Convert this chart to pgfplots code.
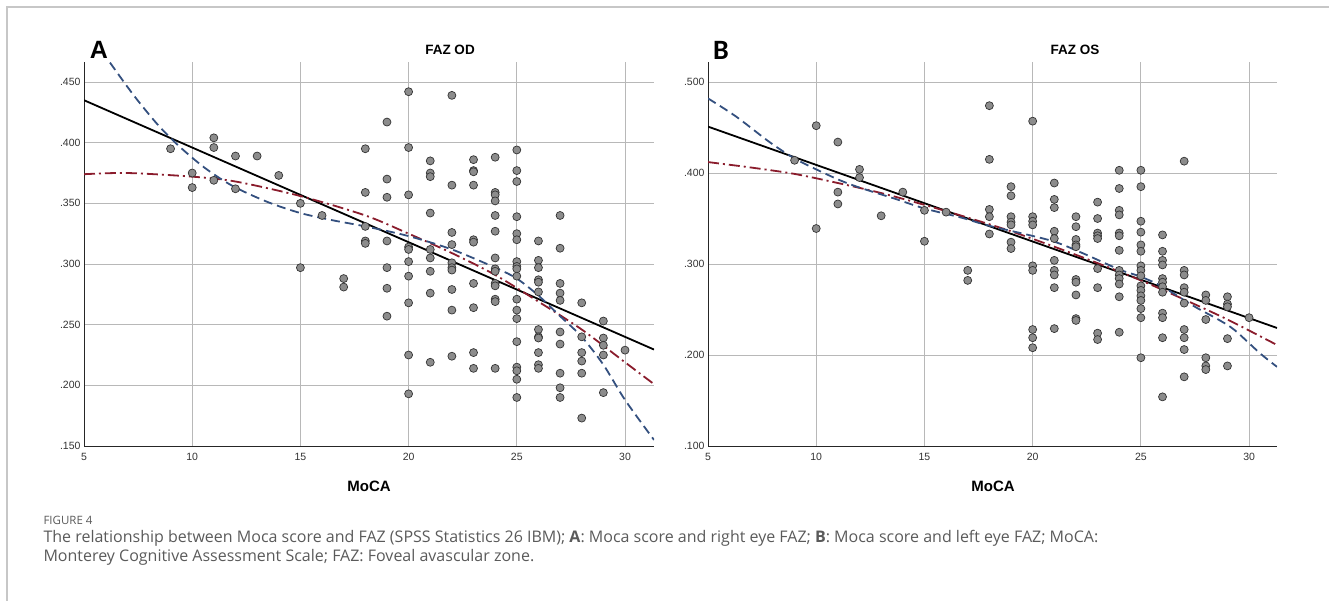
\documentclass[border=0pt]{standalone}
\usepackage{fontspec}
\setmainfont{Liberation Sans}
\newfontfamily\capfont{Open Sans}
\newfontfamily\calfont{Carlito}
\usepackage{pgfplots}
\pgfplotsset{compat=1.18}

\definecolor{fitblue}{HTML}{34507F}
\definecolor{fitred}{HTML}{8A1C2C}
\definecolor{ptfill}{HTML}{8C8C8C}
\definecolor{gridc}{HTML}{B8B8B8}
\definecolor{capgray}{HTML}{5A5A5A}

\pgfplotsset{
  fazstyle/.style={
    scale only axis, width=570pt, height=384pt,
    axis x line*=bottom, axis y line*=left,
    axis line style={draw=black!85, line width=1pt},
    grid=major, major grid style={gridc, line width=0.8pt},
    major tick length=0pt,
    xmin=5, xtick={5,10,15,20,25,30}, xticklabels={5,10,15,20,25,30},
    tick label style={font=\fontsize{10.5}{12}\selectfont, text=black!80},
    xticklabel style={yshift=-4pt},
  },
  pts/.style={only marks, mark=*, mark size=4pt,
    mark options={fill=ptfill, draw=black!80, line width=0.7pt}},
  linfit/.style={black, line width=1.8pt, no marks},
  cubfit/.style={fitblue, line width=1.8pt, dash pattern=on 9pt off 5pt, no marks, smooth},
  quadfit/.style={fitred, line width=1.8pt, dash pattern=on 11pt off 4pt on 2pt off 4pt, no marks, smooth},
}

\begin{document}
\begin{tikzpicture}
\useasboundingbox (0pt,-601pt) rectangle (1329pt,0pt);
\draw[black!22, line width=1.5pt] (7pt,-601pt) -- (7pt,-7pt) -- (1329pt,-7pt);

% panel A: FAZ OD
\begin{axis}[fazstyle, at={(84pt,-446pt)}, anchor=south west,
  xmax=31.34, ymin=0.15, ymax=0.4665,
  ytick={0.15,0.2,0.25,0.3,0.35,0.4,0.45},
  yticklabels={.150,.200,.250,.300,.350,.400,.450}]
\addplot[pts] coordinates {
 (9,0.395) (10,0.375) (10,0.363) (11,0.404) (11,0.396) (11,0.369)
 (12,0.389) (12,0.362) (13,0.389) (14,0.373) (15,0.350) (15,0.297)
 (16,0.340) (17,0.288) (17,0.281)
 (18,0.395) (18,0.359) (18,0.331) (18,0.319) (18,0.317)
 (19,0.417) (19,0.370) (19,0.355) (19,0.319) (19,0.297) (19,0.280) (19,0.257)
 (20,0.442) (20,0.396) (20,0.357) (20,0.314) (20,0.312) (20,0.302) (20,0.290) (20,0.268) (20,0.225) (20,0.193)
 (21,0.385) (21,0.375) (21,0.372) (21,0.342) (21,0.312) (21,0.305) (21,0.294) (21,0.276) (21,0.219)
 (22,0.439) (22,0.365) (22,0.326) (22,0.316) (22,0.301) (22,0.297) (22,0.295) (22,0.279) (22,0.262) (22,0.224)
 (23,0.386) (23,0.377) (23,0.376) (23,0.365) (23,0.320) (23,0.318) (23,0.284) (23,0.264) (23,0.227) (23,0.214)
 (24,0.388) (24,0.359) (24,0.357) (24,0.352) (24,0.340) (24,0.327) (24,0.305) (24,0.296) (24,0.294) (24,0.284) (24,0.282) (24,0.271) (24,0.269) (24,0.214)
 (25,0.394) (25,0.377) (25,0.368) (25,0.339) (25,0.325) (25,0.320) (25,0.302) (25,0.298) (25,0.296) (25,0.290) (25,0.271) (25,0.262) (25,0.255) (25,0.236) (25,0.215) (25,0.212) (25,0.205) (25,0.190)
 (26,0.319) (26,0.303) (26,0.297) (26,0.287) (26,0.285) (26,0.277) (26,0.246) (26,0.240) (26,0.239) (26,0.227) (26,0.217) (26,0.214)
 (27,0.340) (27,0.313) (27,0.284) (27,0.276) (27,0.270) (27,0.244) (27,0.234) (27,0.210) (27,0.198) (27,0.190)
 (28,0.268) (28,0.240) (28,0.227) (28,0.220) (28,0.210) (28,0.173)
 (29,0.253) (29,0.239) (29,0.233) (29,0.225) (29,0.194)
 (30,0.229)
};
\addplot[linfit] coordinates {(5,0.435) (31.34,0.2295)};
\addplot[quadfit] coordinates {
 (5,0.374) (7,0.375) (10,0.372) (12,0.368) (15,0.356) (18,0.340) (20,0.325)
 (22,0.309) (24,0.291) (26,0.269) (28,0.246) (30,0.219) (31.34,0.201)};
\addplot[cubfit] coordinates {
 (6.2,0.466) (7.3,0.439) (8.4,0.415) (9.4,0.397) (10.6,0.379) (11.9,0.364)
 (13.5,0.351) (15,0.342) (16.5,0.336) (18,0.331) (20,0.323) (22,0.312)
 (24,0.297) (25,0.288) (26,0.274) (27,0.257) (28,0.240) (29,0.217) (30,0.188) (31.34,0.155)};
\end{axis}

% panel B: FAZ OS
\begin{axis}[fazstyle, at={(708pt,-446pt)}, anchor=south west, width=569pt,
  xmax=31.29, ymin=0.1, ymax=0.522,
  ytick={0.1,0.2,0.3,0.4,0.5},
  yticklabels={.100,.200,.300,.400,.500}]
\addplot[pts] coordinates {
 (9,0.414) (10,0.452) (10,0.339) (11,0.434) (11,0.379) (11,0.366)
 (12,0.404) (12,0.395) (13,0.353) (14,0.379) (15,0.359) (15,0.325)
 (16,0.357) (17,0.293) (17,0.282)
 (18,0.474) (18,0.415) (18,0.360) (18,0.352) (18,0.333)
 (19,0.385) (19,0.375) (19,0.352) (19,0.346) (19,0.343) (19,0.324) (19,0.317)
 (20,0.457) (20,0.352) (20,0.347) (20,0.343) (20,0.298) (20,0.293) (20,0.228) (20,0.219) (20,0.208)
 (21,0.389) (21,0.371) (21,0.362) (21,0.336) (21,0.328) (21,0.304) (21,0.293) (21,0.288) (21,0.274) (21,0.229)
 (22,0.352) (22,0.341) (22,0.327) (22,0.321) (22,0.319) (22,0.283) (22,0.280) (22,0.266) (22,0.240) (22,0.238)
 (23,0.368) (23,0.350) (23,0.334) (23,0.331) (23,0.328) (23,0.295) (23,0.274) (23,0.224) (23,0.217)
 (24,0.403) (24,0.383) (24,0.359) (24,0.354) (24,0.334) (24,0.331) (24,0.315) (24,0.293) (24,0.288) (24,0.284) (24,0.278) (24,0.264) (24,0.225)
 (25,0.403) (25,0.385) (25,0.347) (25,0.335) (25,0.321) (25,0.314) (25,0.298) (25,0.293) (25,0.287) (25,0.276) (25,0.271) (25,0.265) (25,0.260) (25,0.251) (25,0.241) (25,0.197)
 (26,0.332) (26,0.314) (26,0.304) (26,0.299) (26,0.284) (26,0.280) (26,0.275) (26,0.269) (26,0.246) (26,0.241) (26,0.219) (26,0.154)
 (27,0.413) (27,0.293) (27,0.288) (27,0.274) (27,0.269) (27,0.257) (27,0.228) (27,0.219) (27,0.206) (27,0.176)
 (28,0.266) (28,0.260) (28,0.239) (28,0.197) (28,0.188) (28,0.184)
 (29,0.264) (29,0.256) (29,0.253) (29,0.218) (29,0.188)
 (30,0.241)
};
\addplot[linfit] coordinates {(5,0.451) (31.29,0.2297)};
\addplot[quadfit] coordinates {
 (5,0.412) (7,0.406) (9,0.399) (11,0.389) (13,0.378) (15,0.365) (17,0.351)
 (19,0.336) (21,0.319) (23,0.301) (25,0.282) (27,0.261) (29,0.239) (31.29,0.211)};
\addplot[cubfit] coordinates {
 (5,0.482) (6.3,0.462) (7.9,0.433) (9,0.416) (10,0.404) (11.1,0.392) (12,0.384)
 (13.6,0.372) (15,0.361) (16.7,0.351) (18,0.342) (20.8,0.326) (22.3,0.312)
 (24,0.294) (25,0.286) (26,0.275) (27.5,0.253) (28.5,0.240) (29.3,0.228)
 (30.5,0.202) (31.29,0.187)};
\end{axis}

% titles and labels
\node[font=\bfseries\fontsize{25}{28}\selectfont] at (99pt,-50pt) {A};
\node[font=\calfont\bfseries\fontsize{28}{30}\selectfont] at (721pt,-50pt) {B};
\node[font=\bfseries\fontsize{13.5}{15}\selectfont] at (450pt,-50pt) {FAZ OD};
\node[font=\bfseries\fontsize{13.5}{15}\selectfont] at (1075pt,-50pt) {FAZ OS};
\node[font=\bfseries\fontsize{15}{17}\selectfont] at (369pt,-486pt) {MoCA};
\node[font=\bfseries\fontsize{15}{17}\selectfont] at (993pt,-486pt) {MoCA};

% caption
\node[anchor=west, text=capgray, font=\capfont\fontsize{11.5}{13}\selectfont] at (40pt,-520pt) {FIGURE 4};
\node[anchor=west, text=capgray, font=\capfont\fontsize{16}{18}\selectfont] at (40pt,-538pt)
  {The relationship between Moca score and FAZ (SPSS Statistics 26 IBM); \textbf{A}: Moca score and right eye FAZ; \textbf{B}: Moca score and left eye FAZ; MoCA:};
\node[anchor=west, text=capgray, font=\capfont\fontsize{16}{18}\selectfont] at (40pt,-557pt)
  {Monterey Cognitive Assessment Scale; FAZ: Foveal avascular zone.};
\end{tikzpicture}
\end{document}
